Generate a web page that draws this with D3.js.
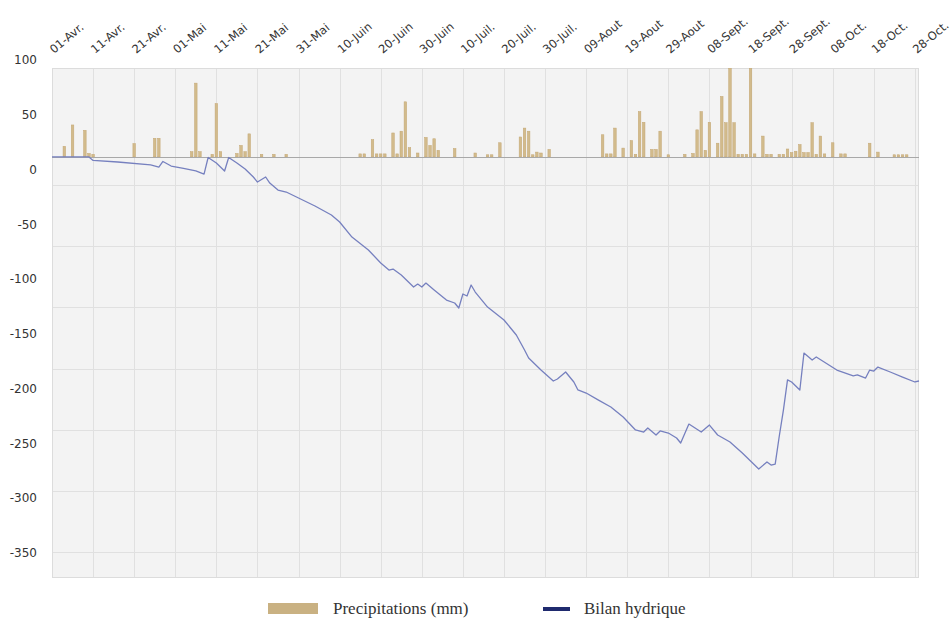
<!DOCTYPE html>
<html>
<head>
<meta charset="utf-8">
<script src="https://cdn.jsdelivr.net/npm/d3@7"></script>
<style>
  html, body { margin: 0; padding: 0; background: #ffffff; }
  svg { display: block; }
</style>
</head>
<body>
<svg id="chart" width="952" height="619"></svg>
<script>
// Daily precipitation (mm), dd/mm
const precipDates = ["04/04","06/04","09/04","10/04","11/04","21/04","26/04","27/04",
  "05/05","06/05","07/05","10/05","11/05","12/05","16/05","17/05","18/05","19/05","22/05","25/05","28/05",
  "15/06","16/06","18/06","19/06","20/06","21/06","23/06","24/06","25/06","26/06","27/06","29/06",
  "01/07","02/07","03/07","04/07","08/07","13/07","16/07","17/07","19/07","24/07","25/07","26/07","27/07","28/07","29/07","31/07",
  "13/08","14/08","15/08","16/08","18/08","20/08","21/08","22/08","23/08","25/08","26/08","27/08","29/08",
  "02/09","04/09","05/09","06/09","07/09","08/09","10/09","11/09","12/09","13/09","14/09","15/09","16/09","17/09","18/09","19/09",
  "21/09","22/09","23/09","25/09","26/09","27/09","28/09","29/09","30/09",
  "01/10","02/10","03/10","04/10","05/10","06/10","08/10","10/10","11/10","17/10","19/10","23/10","24/10","25/10","26/10"];
const precipValues = [12,36,30,4,3,15,21,21,
  6,83,6,3,60,6,4,13,6,26,3,3,3,
  3.5,3.5,19.5,3.5,3.5,3.5,27,3.5,29,62,10.5,4.5,
  22,13,20.5,7.5,9.5,4.5,2.5,2.5,16,22.5,32.5,29,2.5,5.5,4.5,8.5,
  25,3.5,3.5,32.5,10,18.5,3,51,39,8.5,8.5,29,2.5,
  3,4,30.5,51,7.5,39,15.5,68,38.5,100,38.5,3,3,3,100,3.5,
  23.5,3,3,3,3,9,5,6.5,14,
  5,5,38.5,3,23.5,3.5,16,3.5,3.5,15.5,5.5,2.5,2.5,2.5,2.5];

// Water balance (mm), dd/mm
const bilanDates = ["01/04","10/04","11/04","17/04","25/04","27/04","28/04","30/04",
  "03/05","06/05","08/05","09/05","11/05","13/05","14/05","16/05","18/05","20/05","21/05","23/05","24/05","26/05","28/05","31/05",
  "04/06","08/06","10/06","13/06","17/06","20/06","22/06","23/06","25/06","27/06","28/06","29/06","30/06",
  "01/07","03/07","06/07","08/07","09/07","10/07","11/07","12/07","13/07","16/07","20/07","23/07","25/07","26/07","29/07",
  "01/08","02/08","04/08","06/08","07/08","09/08","12/08","15/08","18/08","21/08","23/08","24/08","26/08","27/08","29/08","31/08",
  "01/09","03/09","06/09","08/09","10/09","13/09","16/09","20/09","22/09","23/09","24/09","25/09","26/09","27/09","28/09","30/09",
  "01/10","03/10","04/10","09/10","13/10","14/10","16/10","17/10","18/10","19/10","22/10","25/10","28/10","29/10"];
const bilanValues = [11.5,11.5,8.3,6.9,4.2,2.3,7.4,3.2,
  1.0,-1.3,-4.1,11.0,6.0,-1.3,11.0,6.0,0.5,-6.8,-11.4,-6.8,-12.3,-18.7,-20.5,-26.0,
  -33.3,-41.5,-47.9,-61.6,-73.4,-85.3,-91.7,-90.8,-96.3,-103.6,-107.2,-104.5,-107.2,
  -103.6,-109.9,-119.1,-121.8,-126.4,-113.6,-115.4,-105.4,-111.8,-125.5,-137.3,-151.0,-164.7,-172.0,-183.0,
  -193.0,-191.2,-184.8,-193.9,-201.2,-204.0,-210.4,-216.7,-225.9,-237.7,-239.6,-235.9,-242.3,-238.6,-240.5,-245.0,
  -249.6,-232.3,-239.6,-233.2,-242.3,-248.7,-258.7,-273.3,-266.9,-269.7,-268.8,-243.2,-219.5,-192.0,-193.9,-201.2,
  -167.5,-173.8,-171.1,-183.0,-188.4,-187.5,-190.3,-183.0,-183.9,-180.3,-184.8,-189.4,-193.9,-193.0];

// Date axis
const xTickDates = ["01/04","11/04","21/04","01/05","11/05","21/05","31/05","10/06","20/06","30/06",
  "10/07","20/07","30/07","09/08","19/08","29/08","08/09","18/09","28/09","08/10","18/10","28/10"];
const xTickLabels = ["01-Avr.","11-Avr.","21-Avr.","01-Mai","11-Mai","21-Mai","31-Mai","10-Juin","20-Juin","30-Juin",
  "10-Juil.","20-Juil.","30-Juil.","09-Aout","19-Aout","29-Aout","08-Sept.","18-Sept.","28-Sept.","08-Oct.","18-Oct.","28-Oct."];
const xDomain = ["01/04","29/10"];

// Value axis labels
const yTicks = [100,50,0,-50,-100,-150,-200,-250,-300,-350];
// Horizontal grid levels
const gridLevels = [0,-50,-100,-150,-200,-250,-300];

const legendItems = ["Precipitations (mm)","Bilan hydrique"];

const parse = d3.timeParse("%d/%m");
const svg = d3.select("#chart");

const plot = { left: 52, right: 919, top: 68, bottom: 578 };

const x = d3.scaleTime().domain(xDomain.map(parse)).range([plot.left, plot.right]);
const yRain = d3.scaleLinear().domain([0, 100]).range([157, plot.top]);
const yVal = d3.scaleLinear().domain([-350, 100]).range([553, 60]);
const yGrid = d3.scaleLinear().domain([0, -300]).range([185, 552]);

const dayW = x(parse("02/04")) - x(parse("01/04"));

// plot background
svg.append("rect")
  .attr("x", plot.left).attr("y", plot.top)
  .attr("width", plot.right - plot.left).attr("height", plot.bottom - plot.top)
  .attr("fill", "#f3f3f3");

// grid
const grid = svg.append("g").attr("stroke", "#e0e0e0").attr("stroke-width", 1);
grid.selectAll("line.h").data(gridLevels).join("line")
  .attr("class", "h")
  .attr("x1", plot.left).attr("x2", plot.right)
  .attr("y1", d => Math.round(yGrid(d)) + 0.5).attr("y2", d => Math.round(yGrid(d)) + 0.5);
grid.selectAll("line.v").data(xTickDates.map(parse)).join("line")
  .attr("class", "v")
  .attr("x1", d => Math.round(x(d)) + 0.5).attr("x2", d => Math.round(x(d)) + 0.5)
  .attr("y1", plot.top).attr("y2", plot.bottom);

// frame
svg.append("rect")
  .attr("x", plot.left + 0.5).attr("y", plot.top + 0.5)
  .attr("width", plot.right - plot.left - 1).attr("height", plot.bottom - plot.top - 1)
  .attr("fill", "none").attr("stroke", "#dcdcdc");

svg.append("clipPath").attr("id", "plotclip")
  .append("rect")
  .attr("x", plot.left).attr("y", plot.top)
  .attr("width", plot.right - plot.left).attr("height", plot.bottom - plot.top);

// precipitation bars
const bw = dayW * 0.62;
svg.append("g").attr("clip-path", "url(#plotclip)")
  .selectAll("rect").data(precipDates.map((d, i) => ({ date: parse(d), v: precipValues[i] })))
  .join("rect")
  .attr("x", d => x(d.date) - bw / 2)
  .attr("y", d => yRain(d.v))
  .attr("width", bw)
  .attr("height", d => yRain(0) - yRain(d.v))
  .attr("fill", "#d2bb8c")
  .attr("stroke", "#c3a673")
  .attr("stroke-width", 0.5);

// zero line of the bars
svg.append("line")
  .attr("x1", plot.left).attr("x2", plot.right)
  .attr("y1", yRain(0) + 0.5).attr("y2", yRain(0) + 0.5)
  .attr("stroke", "#a8a8a8").attr("stroke-width", 1);

// water balance line
const line = d3.line().x(d => x(d.date)).y(d => yVal(d.v));
svg.append("path")
  .datum(bilanDates.map((d, i) => ({ date: parse(d), v: bilanValues[i] })))
  .attr("d", line)
  .attr("fill", "none")
  .attr("stroke", "#7680bf")
  .attr("stroke-width", 1.3)
  .attr("stroke-linejoin", "round");

// value axis labels
svg.append("g")
  .selectAll("text").data(yTicks).join("text")
  .attr("x", 37)
  .attr("y", d => yVal(d))
  .attr("dy", "0.35em")
  .attr("text-anchor", "end")
  .attr("font-family", "DejaVu Sans, sans-serif")
  .attr("font-size", 12)
  .attr("fill", "#333")
  .text(d => d);

// date labels
svg.append("g")
  .selectAll("text").data(xTickDates.map(parse)).join("text")
  .attr("transform", d => `translate(${x(d) + 2},54) rotate(-40)`)
  .attr("font-family", "DejaVu Sans, sans-serif")
  .attr("font-size", 11.5)
  .attr("fill", "#333")
  .text((d, i) => xTickLabels[i]);

// legend
const lg = svg.append("g");
lg.append("rect").attr("x", 268).attr("y", 603).attr("width", 50).attr("height", 11).attr("fill", "#c9b182");
lg.append("text").attr("x", 333).attr("y", 614)
  .attr("font-family", "Liberation Serif, serif").attr("font-size", 17).attr("fill", "#333")
  .text(legendItems[0]);
lg.append("line").attr("x1", 543).attr("x2", 570).attr("y1", 609).attr("y2", 609)
  .attr("stroke", "#1f2a6e").attr("stroke-width", 4);
lg.append("text").attr("x", 584).attr("y", 614)
  .attr("font-family", "Liberation Serif, serif").attr("font-size", 17).attr("fill", "#333")
  .text(legendItems[1]);
</script>
</body>
</html>
